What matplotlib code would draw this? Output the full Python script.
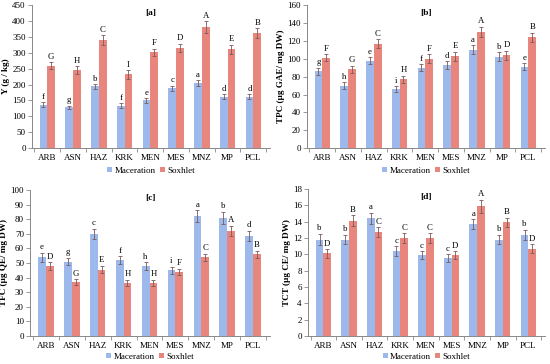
import matplotlib
matplotlib.use("Agg")
import matplotlib.pyplot as plt
import numpy as np

categories = ["ARB", "ASN", "HAZ", "KRK", "MEN", "MES", "MNZ", "MP", "PCL"]

# Panel a: Yield
a_mac = [137, 128, 194, 134, 150, 188, 204, 162, 162]
a_sox = [259, 245, 339, 232, 301, 315, 381, 311, 361]
a_mac_err = [7, 6, 8, 7, 7, 9, 9, 8, 7]
a_sox_err = [11, 12, 16, 13, 12, 14, 18, 15, 16]
a_mac_lbl = ["f", "g", "b", "f", "e", "c", "a", "d", "d"]
a_sox_lbl = ["G", "H", "C", "I", "F", "D", "A", "E", "B"]

# Panel b: TPC
b_mac = [86, 70, 98, 66, 90, 93, 110, 102, 91]
b_sox = [101, 88, 117, 77, 100, 103, 130, 104, 124]
b_mac_err = [4, 4, 4, 3, 4, 4, 5, 5, 4]
b_sox_err = [4, 4, 5, 4, 5, 5, 6, 5, 5]
b_mac_lbl = ["g", "h", "e", "i", "f", "d", "a", "b", "e"]
b_sox_lbl = ["F", "G", "C", "H", "F", "E", "A", "D", "B"]

# Panel c: TFC
c_mac = [54, 51, 70, 52, 48, 45, 82, 81, 68.5]
c_sox = [48, 37, 45.5, 36.5, 36.5, 44, 54, 72, 56]
c_mac_err = [3, 2.5, 3.5, 2.5, 2.5, 2.5, 4, 4, 3.5]
c_sox_err = [2.5, 2, 2.5, 2, 2, 2, 2.5, 3.5, 2.5]
c_mac_lbl = ["e", "g", "c", "f", "h", "i", "a", "b", "d"]
c_sox_lbl = ["D", "G", "E", "H", "H", "F", "C", "A", "B"]

# Panel d: TCT
d_mac = [11.8, 11.8, 14.4, 10.4, 9.9, 9.5, 13.7, 11.8, 12.4]
d_sox = [10.1, 14.1, 12.7, 12.0, 12.0, 9.9, 15.9, 13.9, 10.7]
d_mac_err = [0.7, 0.6, 0.7, 0.6, 0.5, 0.5, 0.6, 0.6, 0.6]
d_sox_err = [0.5, 0.7, 0.6, 0.6, 0.6, 0.5, 0.8, 0.6, 0.5]
d_mac_lbl = ["b", "b", "a", "c", "c", "c", "a", "b", "b"]
d_sox_lbl = ["D", "B", "C", "C", "C", "D", "A", "B", "D"]

series_names = ["Maceration", "Soxhlet"]

plt.rcParams['font.family'] = ['Liberation Serif', 'DejaVu Serif']

MAC_C = "#9db8ea"
SOX_C = "#e8857c"
ERR_C = "#7a5a5a"

fig = plt.figure(figsize=(5.5, 3.64), dpi=100)

panels = [
    ("[a]", "Y (g / kg)", a_mac, a_sox, a_mac_err, a_sox_err, a_mac_lbl, a_sox_lbl,
     [0.058, 0.593, 0.433, 0.393], 450, 50, -0.13),
    ("[b]", "TPC (µg GAE/ mg DW)", b_mac, b_sox, b_mac_err, b_sox_err, b_mac_lbl, b_sox_lbl,
     [0.558, 0.593, 0.433, 0.393], 160, 20, -0.13),
    ("[c]", "TFC (µg QE/ mg DW)", c_mac, c_sox, c_mac_err, c_sox_err, c_mac_lbl, c_sox_lbl,
     [0.055, 0.077, 0.436, 0.401], 100, 10, -0.115),
    ("[d]", "TCT (µg CE/ mg DW)", d_mac, d_sox, d_mac_err, d_sox_err, d_mac_lbl, d_sox_lbl,
     [0.560, 0.077, 0.431, 0.404], 18, 2, -0.115),
]

w = 0.3
x = np.arange(len(categories))
for title, ylabel, mac, sox, me, se, ml, sl, rect, ymax, step, legy in panels:
    ax = fig.add_axes(rect)
    ax.bar(x - w / 2, mac, w, color=MAC_C, label=series_names[0],
           yerr=me, error_kw=dict(ecolor=ERR_C, elinewidth=0.6, capsize=1.5, capthick=0.6))
    ax.bar(x + w / 2, sox, w, color=SOX_C, label=series_names[1],
           yerr=se, error_kw=dict(ecolor=ERR_C, elinewidth=0.6, capsize=1.5, capthick=0.6))
    off = ymax * 0.01
    for i in range(len(categories)):
        ax.text(x[i] - w / 2, mac[i] + me[i] + off, ml[i], ha='center', va='bottom', fontsize=6.3)
        ax.text(x[i] + w / 2, sox[i] + se[i] + off, sl[i], ha='center', va='bottom', fontsize=6.3)
    ax.set_xlim(-0.6, 8.65)
    ax.set_ylim(0, ymax)
    ax.set_yticks(np.arange(0, ymax + step / 2, step))
    ax.set_xticks(x)
    ax.set_xticklabels(categories, fontsize=6.5)
    ax.set_xticks(np.arange(-0.5, 9, 1), minor=True)
    ax.tick_params(axis='x', which='major', length=0, pad=4)
    ax.tick_params(axis='x', which='minor', length=3, width=0.6, color='#888888')
    ax.tick_params(axis='y', labelsize=6.5, length=3, width=0.6, color='#888888', pad=1.5)
    for s in ['top', 'right']:
        ax.spines[s].set_visible(False)
    for s in ['left', 'bottom']:
        ax.spines[s].set_color('#888888')
        ax.spines[s].set_linewidth(0.7)
    ax.set_ylabel(ylabel, fontsize=6.6, fontweight='bold', labelpad=1.5)
    ax.text(0.5, 0.97, title, transform=ax.transAxes, ha='center', va='top',
            fontsize=6.8, fontweight='bold')
    ax.legend(loc='upper center', bbox_to_anchor=(0.5, legy), ncol=2, frameon=False,
              fontsize=6.5, handlelength=0.55, handleheight=0.55, handletextpad=0.25,
              columnspacing=0.5, borderaxespad=0, borderpad=0)

fig.savefig("out.png", dpi=100)
